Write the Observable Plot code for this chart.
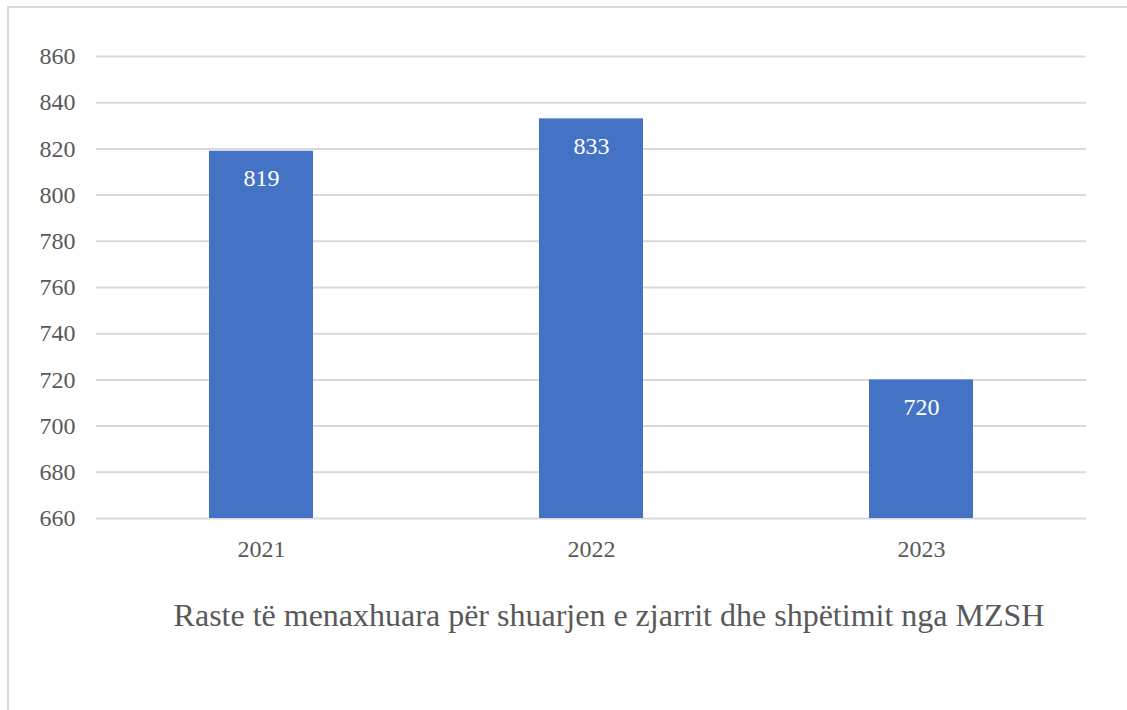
<!DOCTYPE html>
<html>
<head>
<meta charset="utf-8">
<script src="https://cdn.jsdelivr.net/npm/d3@7"></script>
<script src="https://cdn.jsdelivr.net/npm/@observablehq/plot@0.6"></script>
<style>
  html, body { margin: 0; padding: 0; background: #fff; }
  #wrap { position: relative; width: 1127px; height: 710px; overflow: hidden; background: #fff; }
  #frame { position: absolute; left: 7px; top: 6px; width: 1200px; height: 800px; border-left: 2px solid #d9d9d9; border-top: 2px solid #d9d9d9; }
  #chart { position: absolute; left: 0; top: 0; }
  #title { position: absolute; left: 109px; top: 597px; width: 1000px; text-align: center; font-family: 'Liberation Serif', serif; font-size: 32px; line-height: 36px; color: #595959; white-space: nowrap; }
</style>
</head>
<body>
<div id="wrap">
  <div id="frame"></div>
  <div id="chart"></div>
  <div id="title">Raste të menaxhuara për shuarjen e zjarrit dhe shpëtimit nga MZSH</div>
</div>
<script>
const years = ["2021", "2022", "2023"];
const cases = [819, 833, 720];
const yTicks = [660, 680, 700, 720, 740, 760, 780, 800, 820, 840, 860];
const baseline = 660;

const data = years.map((y, i) => ({year: y, value: cases[i]}));
const font = "'Liberation Serif', serif";

const chart = Plot.plot({
  width: 1127,
  height: 580,
  marginLeft: 96,
  marginRight: 41,
  marginTop: 56,
  marginBottom: 62,
  style: {fontFamily: font, fontSize: "24px", color: "#595959", background: "transparent", overflow: "visible"},
  x: {domain: years, paddingInner: 0.685, paddingOuter: 0.3425, label: null},
  y: {domain: [660, 860], label: null},
  marks: [
    Plot.gridY(yTicks, {stroke: "#d9d9d9", strokeOpacity: 1, strokeWidth: 2}),
    Plot.axisY(yTicks, {tickSize: 0, tickPadding: 21, fontSize: 24, fill: "#595959", label: null}),
    Plot.axisX({tickSize: 0, tickPadding: 21, fontSize: 24, fill: "#595959", label: null}),
    Plot.barY(data, {x: "year", y1: baseline, y2: "value", fill: "#4472c4"}),
    Plot.text(data, {x: "year", y: "value", text: d => String(d.value), dy: 27, fill: "white", fontSize: 24})
  ]
});
document.getElementById("chart").appendChild(chart);
</script>
</body>
</html>
